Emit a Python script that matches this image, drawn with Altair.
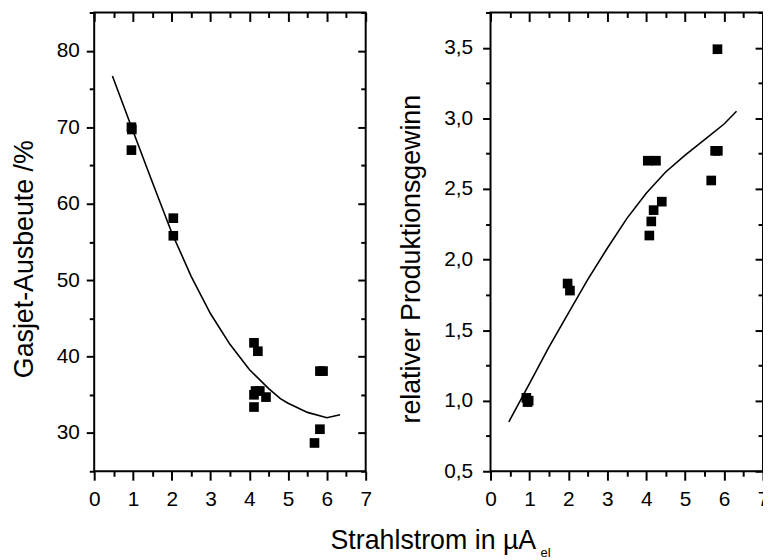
import altair as alt
import pandas as pd

# Left panel: Gasjet-Ausbeute (%)
left_x = [0.96, 0.97, 0.96, 2.04, 2.04, 4.12, 4.22, 4.16, 4.27, 4.12, 4.12, 4.43, 5.68, 5.82, 5.82, 5.90]
left_y = [70.0, 69.7, 67.0, 58.1, 55.8, 41.8, 40.7, 35.5, 35.5, 35.0, 33.4, 34.7, 28.7, 30.5, 38.1, 38.1]
left_fit_x = [0.47, 1.0, 1.5, 2.0, 2.5, 3.0, 3.5, 4.0, 4.5, 4.8, 5.0, 5.5, 6.0, 6.34]
left_fit_y = [76.7, 69.5, 62.8, 56.2, 50.5, 45.6, 41.6, 38.3, 35.8, 34.5, 33.9, 32.7, 32.0, 32.4]

# Right panel: relativer Produktionsgewinn
right_x = [5.83, 4.04, 4.25, 5.77, 5.84, 5.67, 4.40, 4.19, 4.13, 4.08, 1.98, 2.04, 0.92, 0.98, 0.95]
right_y = [3.49, 2.70, 2.70, 2.77, 2.77, 2.56, 2.41, 2.35, 2.27, 2.17, 1.83, 1.78, 1.02, 1.00, 0.99]
right_fit_x = [0.47, 1.0, 1.5, 2.0, 2.5, 3.0, 3.5, 4.0, 4.5, 5.0, 5.5, 6.0, 6.32]
right_fit_y = [0.85, 1.12, 1.38, 1.62, 1.86, 2.08, 2.29, 2.47, 2.62, 2.74, 2.85, 2.96, 3.05]

# axis domains and tick values
x_domain = [0, 7]
left_y_domain = [25, 85]
right_y_domain = [0.5, 3.75]
x_ticks = [i * 0.5 for i in range(15)]
x_major_ticks = [i for i in range(8)]
x_minor_ticks = [i + 0.5 for i in range(7)]
left_y_ticks = [25 + 5 * i for i in range(13)]
left_y_major = [30, 40, 50, 60, 70, 80]
left_y_minor = [25, 35, 45, 55, 65, 75, 85]
right_y_ticks = [0.5 + 0.25 * i for i in range(14)]
right_y_major = [0.5, 1.0, 1.5, 2.0, 2.5, 3.0, 3.5]
right_y_minor = [0.75, 1.25, 1.75, 2.25, 2.75, 3.25, 3.75]

FONT = "Liberation Sans"
W, H = 675, 463          # whole drawing area (both panels)
LEFT_RANGE = [0, 274]    # left panel
RIGHT_RANGE = [400, 675] # right panel

x_major = "abs(datum.value - round(datum.value)) < 0.001"
ly_major = "datum.value % 10 === 0"
ry_major = "abs(datum.value*2 - round(datum.value*2)) < 0.001"


def tsize(test, major, minor):
    return {"condition": {"test": test, "value": major}, "value": minor}


common = dict(domain=False, grid=False, tickWidth=2, tickColor="black")


def x_axis_bottom(title, title_x, title_y, title_size):
    return alt.Axis(
        orient="bottom", values=x_ticks, tickSize=tsize(x_major, 9, 5),
        labelExpr=f"{x_major} ? format(datum.value, 'd') : ''",
        labelFont=FONT, labelFontSize=21, labelColor="black", labelPadding=9,
        labelOverlap=False, labelFlush=False,
        title=title, titleFont=FONT, titleFontSize=title_size, titleFontWeight="normal",
        titleColor="black", titleX=title_x, titleY=title_y, titleAlign="left",
        titleBaseline="alphabetic", **common,
    )


def x_axis_top(values, size):
    # ticks pointing inward: axis shifted inside by its tick length
    return alt.Axis(orient="top", values=values, labels=False, title=None,
                    tickSize=size, offset=-size, **common)


def y_axis_left(ticks, major, label_expr, title, title_x, labpad, offset):
    return alt.Axis(
        orient="left", values=ticks, tickSize=tsize(major, 8, 5), offset=offset,
        labelExpr=label_expr,
        labelFont=FONT, labelFontSize=21, labelColor="black", labelPadding=labpad,
        labelOverlap=False, labelFlush=False,
        title=title, titleFont=FONT, titleFontSize=27, titleFontWeight="normal",
        titleColor="black", titleX=title_x, titleY=258.5 - 10, titleAngle=270,
        titleAlign="center", titleBaseline="alphabetic", **common,
    )


def y_axis_right(values, size, panel_right):
    # ticks pointing inward from the panel's right edge
    return alt.Axis(orient="right", values=values, labels=False, title=None,
                    tickSize=size, offset=-(W - panel_right) - size, **common)


lx = alt.Scale(domain=x_domain, range=LEFT_RANGE, nice=False, zero=False)
ly = alt.Scale(domain=left_y_domain, nice=False, zero=False)
rx = alt.Scale(domain=x_domain, range=RIGHT_RANGE, nice=False, zero=False)
ry = alt.Scale(domain=right_y_domain, nice=False, zero=False)

left_pts = pd.DataFrame({"x": left_x, "y": left_y})
left_fit = pd.DataFrame({"x": left_fit_x, "y": left_fit_y})
left_frame = pd.DataFrame({"x": [x_domain[0]], "x2": [x_domain[1]],
                           "y": [left_y_domain[0]], "y2": [left_y_domain[1]]})
right_pts = pd.DataFrame({"x": right_x, "y": right_y})
right_fit = pd.DataFrame({"x": right_fit_x, "y": right_fit_y})
right_frame = pd.DataFrame({"x": [x_domain[0]], "x2": [x_domain[1]],
                            "y": [right_y_domain[0]], "y2": [right_y_domain[1]]})

square = dict(size=95, color="black", opacity=1)
fitline = dict(color="black", strokeWidth=1.6)
frame = dict(fill=None, stroke="black", strokeWidth=2)

l1 = alt.Chart(left_pts).mark_square(**square).encode(
    x=alt.X("x:Q", scale=lx, axis=x_axis_bottom("Strahlstrom in µA", 238, 78, 27)),
    y=alt.Y("y:Q", scale=ly, axis=y_axis_left(
        left_y_ticks, ly_major, f"{ly_major} ? format(datum.value, 'd') : ''",
        "Gasjet-Ausbeute /%", -62, 7, 0)),
)
l2 = alt.Chart(left_fit).mark_line(**fitline).encode(
    x=alt.X("x:Q", scale=lx, axis=x_axis_top(x_major_ticks, 9)),
    y=alt.Y("y:Q", scale=ly, axis=y_axis_right(left_y_major, 8, LEFT_RANGE[1])),
)
l3 = alt.Chart(left_frame).mark_rect(**frame).encode(
    x=alt.X("x:Q", scale=lx, axis=x_axis_top(x_minor_ticks, 5)),
    x2="x2:Q",
    y=alt.Y("y:Q", scale=ly, axis=y_axis_right(left_y_minor, 5, LEFT_RANGE[1])),
    y2="y2:Q",
)
r1 = alt.Chart(right_pts).mark_square(**square).encode(
    x=alt.X("x:Q", scale=rx, axis=x_axis_bottom("el", 545 - 95, 86, 13)),
    y=alt.Y("y:Q", scale=ry, axis=y_axis_left(
        right_y_ticks, ry_major,
        f"{ry_major} ? replace(format(datum.value, '.1f'), '.', ',') : ''",
        "relativer Produktionsgewinn", -72, 10, -RIGHT_RANGE[0])),
)
r2 = alt.Chart(right_fit).mark_line(**fitline).encode(
    x=alt.X("x:Q", scale=rx, axis=x_axis_top(x_major_ticks, 9)),
    y=alt.Y("y:Q", scale=ry, axis=y_axis_right(right_y_major, 8, RIGHT_RANGE[1])),
)
r3 = alt.Chart(right_frame).mark_rect(**frame).encode(
    x=alt.X("x:Q", scale=rx, axis=x_axis_top(x_minor_ticks, 5)),
    x2="x2:Q",
    y=alt.Y("y:Q", scale=ry, axis=y_axis_right(right_y_minor, 5, RIGHT_RANGE[1])),
    y2="y2:Q",
)

chart = (
    alt.layer(l3, l1, l2, r3, r1, r2)
    .resolve_scale(x="independent", y="independent")
    .resolve_axis(x="independent", y="independent")
    .properties(
        width=W, height=H,
        autosize=alt.AutoSizeParams(type="none"),
        padding={"left": 87, "top": 2, "right": 0, "bottom": 86},
        background="white",
    )
    .configure_view(stroke=None)
)

chart.save("out.html", embed_options={"renderer": "svg", "actions": False})
